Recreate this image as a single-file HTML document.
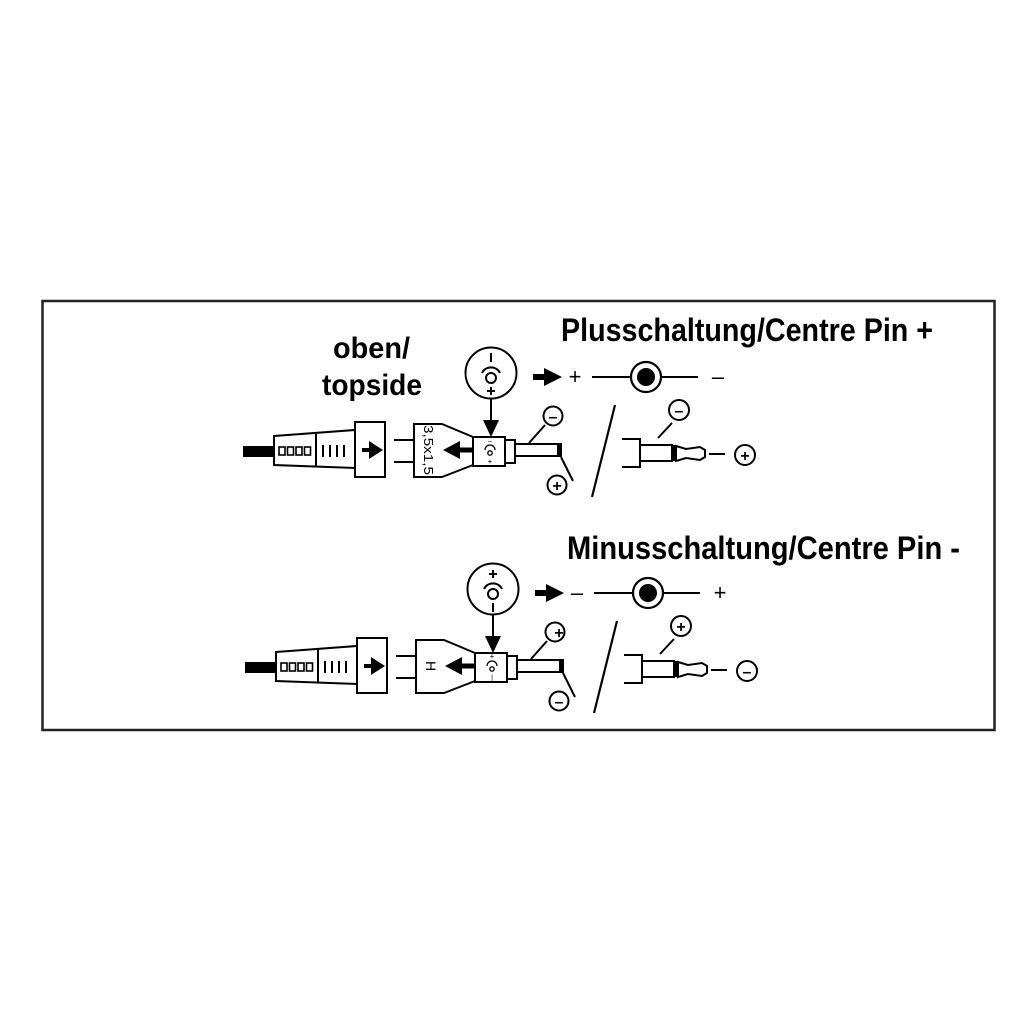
<!DOCTYPE html>
<html><head><meta charset="utf-8"><style>html,body{margin:0;padding:0;background:#fff}svg{display:block}</style></head>
<body>
<svg width="1024" height="1024" viewBox="0 0 1024 1024" xmlns="http://www.w3.org/2000/svg" font-family="Liberation Sans, sans-serif">
<rect x="0" y="0" width="1024" height="1024" fill="#fff"/>
<rect x="42.5" y="301" width="952" height="429" fill="none" stroke="#222" stroke-width="2.5"/>
<g font-weight="bold" fill="#000">
<text x="561" y="341" font-size="32" textLength="372" lengthAdjust="spacingAndGlyphs">Plusschaltung/Centre Pin +</text>
<text x="567" y="559" font-size="32" textLength="393" lengthAdjust="spacingAndGlyphs">Minusschaltung/Centre Pin -</text>
<text x="333" y="358" font-size="30" textLength="77" lengthAdjust="spacingAndGlyphs">oben/</text>
<text x="322" y="395" font-size="30" textLength="100" lengthAdjust="spacingAndGlyphs">topside</text>
</g>
<defs>
<g id="plug">
<rect x="243" y="446" width="32" height="11" fill="#000"/>
<polygon points="274,436 355,430 355,468 274,465" fill="#fff" stroke="#000" stroke-width="2"/>
<line x1="316" y1="433" x2="316" y2="467" stroke="#000" stroke-width="2"/>
<g fill="none" stroke="#000" stroke-width="1.6">
<rect x="279" y="447" width="6" height="8"/><rect x="287.5" y="447" width="6" height="8"/><rect x="296" y="447" width="6" height="8"/><rect x="304.5" y="447" width="6" height="8"/>
</g>
<g stroke="#000" stroke-width="2"><line x1="323" y1="445" x2="323" y2="457"/><line x1="330" y1="445" x2="330" y2="457"/><line x1="337" y1="445" x2="337" y2="457"/><line x1="344" y1="445" x2="344" y2="457"/></g>
<rect x="355" y="422" width="30" height="55" fill="#fff" stroke="#000" stroke-width="2"/>
<line x1="362" y1="450" x2="372" y2="450" stroke="#000" stroke-width="4"/>
<polygon points="369,441 383,450 369,459" fill="#000"/>
<line x1="394" y1="440" x2="414" y2="440" stroke="#000" stroke-width="2"/>
<line x1="394" y1="462" x2="414" y2="462" stroke="#000" stroke-width="2"/>
<polygon points="414,424 442,424 473,437 473,465 442,477 414,477" fill="#fff" stroke="#000" stroke-width="2"/>
<rect x="473" y="437" width="32" height="29" fill="#fff" stroke="#000" stroke-width="2"/>
<rect x="505" y="440" width="10" height="23" fill="#fff" stroke="#000" stroke-width="2"/>
<rect x="515" y="444" width="46" height="12" fill="#fff" stroke="#000" stroke-width="2"/>
<rect x="557" y="443" width="5" height="14" fill="#000"/>
<line x1="473" y1="450" x2="458" y2="450" stroke="#000" stroke-width="5"/>
<polygon points="460,441 443,450 460,459" fill="#000"/>
<circle cx="491" cy="373" r="25.5" fill="#fff" stroke="#000" stroke-width="2"/>
<circle cx="491" cy="378" r="5" fill="none" stroke="#000" stroke-width="2"/>
<path d="M482,373 A10,10 0 0 1 500,373" fill="none" stroke="#000" stroke-width="2"/>
<circle cx="490" cy="453" r="2.2" fill="none" stroke="#000" stroke-width="1.3"/>
<path d="M485,450 A5,5 0 0 1 495,450" fill="none" stroke="#000" stroke-width="1.3"/>
<line x1="491" y1="398" x2="491" y2="423" stroke="#000" stroke-width="2"/>
<polygon points="483,420 491,437 499,420" fill="#000"/>
<line x1="529" y1="443" x2="545" y2="425" stroke="#000" stroke-width="2"/>
<line x1="561" y1="457" x2="573" y2="481" stroke="#000" stroke-width="2"/>
<circle cx="553" cy="416" r="9.5" fill="#fff" stroke="#000" stroke-width="2"/>
<circle cx="557" cy="485" r="9.5" fill="#fff" stroke="#000" stroke-width="2"/>
<line x1="533" y1="377" x2="547" y2="377" stroke="#000" stroke-width="6"/>
<polygon points="544,368 562,377 544,386" fill="#000"/>
<line x1="592" y1="377" x2="630" y2="377" stroke="#000" stroke-width="2"/>
<line x1="662" y1="377" x2="698" y2="377" stroke="#000" stroke-width="2"/>
<circle cx="646" cy="377" r="15" fill="#fff" stroke="#000" stroke-width="2.2"/>
<circle cx="646" cy="377" r="9" fill="#000"/>
<line x1="615" y1="405" x2="592" y2="497" stroke="#000" stroke-width="2.2"/>
<line x1="658" y1="438" x2="672" y2="423" stroke="#000" stroke-width="2"/>
<circle cx="679" cy="410" r="10" fill="#fff" stroke="#000" stroke-width="2"/>
<polyline points="622,439 640,439 640,467 622,467" fill="none" stroke="#000" stroke-width="2"/>
<rect x="640" y="445" width="32" height="16" fill="#fff" stroke="#000" stroke-width="2"/>
<rect x="671" y="445" width="5" height="16" fill="#000"/>
<path d="M676,446 L686,449 L700,447 L705,450 L705,457 L700,460 L686,458 L676,461 Z" fill="#fff" stroke="#000" stroke-width="2"/>
<line x1="709" y1="454" x2="725" y2="454" stroke="#000" stroke-width="2"/>
<circle cx="745" cy="455" r="10" fill="#fff" stroke="#000" stroke-width="2"/>
</g>
</defs>
<use href="#plug"/>
<use href="#plug" transform="translate(2,216)"/>
<g stroke="#000" stroke-width="2">
<line x1="491" y1="353" x2="491" y2="362"/>
<line x1="491" y1="387" x2="491" y2="395"/><line x1="487" y1="391" x2="495" y2="391"/>
<line x1="493" y1="570" x2="493" y2="578"/><line x1="489" y1="574" x2="497" y2="574"/>
<line x1="493" y1="603" x2="493" y2="612"/>
</g>
<g font-size="16" fill="#000" text-anchor="middle" font-weight="bold">
<text x="575" y="384" font-size="22" font-weight="normal">+</text>
<text x="718" y="384" font-size="22" font-weight="normal">–</text>
<text x="553" y="422">–</text>
<text x="557" y="491">+</text>
<text x="679" y="416">–</text>
<text x="745" y="461">+</text>
<text x="577" y="600" font-size="22" font-weight="normal">–</text>
<text x="720" y="600" font-size="22" font-weight="normal">+</text>
<text x="559" y="638">+</text>
<text x="559" y="707">–</text>
<text x="681" y="632">+</text>
<text x="747" y="677">–</text>
</g>
<g font-size="11" fill="#000" text-anchor="middle">
<text x="0" y="0" transform="translate(424,450) rotate(90)" font-size="13" textLength="50" lengthAdjust="spacingAndGlyphs">3,5x1,5</text>
<text x="0" y="0" transform="translate(426,666) rotate(90)" font-size="14">H</text>
<text x="490" y="443" font-size="7">–</text>
<text x="490" y="464" font-size="8">+</text>
<text x="492" y="659" font-size="8">+</text>
<text x="492" y="680" font-size="7">|</text>
</g>
</svg>
</body></html>
